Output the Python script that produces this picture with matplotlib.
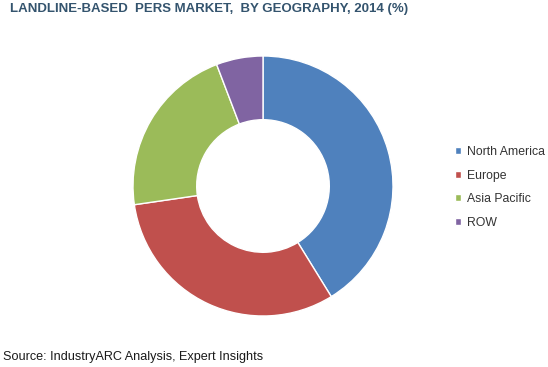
import matplotlib
matplotlib.use("Agg")
import matplotlib.pyplot as plt

# Participação por região (%)
regioes = ["North America", "Europe", "Asia Pacific", "ROW"]
participacao = [41.2, 31.5, 21.5, 5.8]
cores = ["#4F81BD", "#C0504D", "#9BBB59", "#8064A2"]

titulo = "LANDLINE-BASED  PERS MARKET,  BY GEOGRAPHY, 2014 (%)"
fonte = "Source: IndustryARC Analysis, Expert Insights"

plt.rcParams["font.family"] = ["Liberation Sans", "DejaVu Sans"]

W, H = 548, 367
fig = plt.figure(figsize=(W / 100, H / 100), dpi=100)

# eixo do donut: centro (263, 186), raio 130 px
cx, cy, r = 263, 186, 130
ax = fig.add_axes([(cx - r) / W, (H - cy - r) / H, 2 * r / W, 2 * r / H])
fatias, _ = ax.pie(
    participacao,
    colors=cores,
    startangle=90,
    counterclock=False,
    radius=1.0,
    wedgeprops=dict(width=0.49, edgecolor="white", linewidth=1.0),
)
ax.set_xlim(-1, 1)
ax.set_ylim(-1, 1)
ax.axis("off")

fig.text(10 / W, 1 - 9 / H, titulo, fontsize=9.5, fontweight="bold",
         color="#34546e", va="center", ha="left")
fig.text(3 / W, 1 - 357 / H, fonte, fontsize=9.1, color="#1a1a1a",
         va="center", ha="left")

leg = fig.legend(
    fatias, regioes,
    loc="upper left",
    bbox_to_anchor=(444 / W, 1 - 135 / H),
    frameon=False,
    fontsize=8.8,
    handlelength=0.5,
    handleheight=0.5,
    handletextpad=0.5,
    labelspacing=0.95,
)
for t in leg.get_texts():
    t.set_color("#333333")

fig.savefig("out.png", dpi=100)
